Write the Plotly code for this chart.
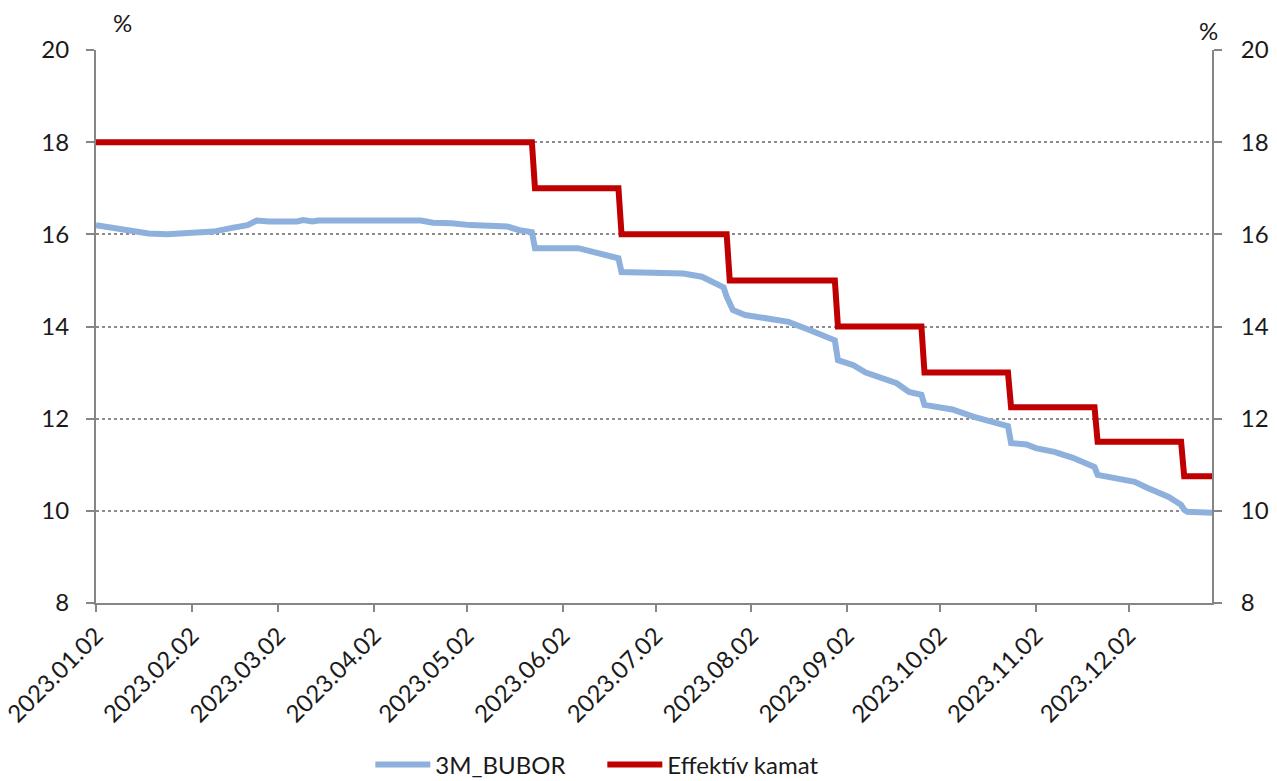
import plotly.graph_objects as go
import pandas as pd

# 3M BUBOR fixing, read at turning points (date, %)
bubor_dates = [
    "2023-01-02", "2023-01-05", "2023-01-11", "2023-01-19", "2023-01-25",
    "2023-02-01", "2023-02-09", "2023-02-15", "2023-02-20", "2023-02-23",
    "2023-02-27", "2023-03-08", "2023-03-10", "2023-03-13", "2023-03-15",
    "2023-04-17", "2023-04-21", "2023-04-27", "2023-05-03", "2023-05-15",
    "2023-05-19", "2023-05-23", "2023-05-24", "2023-06-07", "2023-06-12",
    "2023-06-19", "2023-06-20", "2023-06-21", "2023-06-28", "2023-07-11",
    "2023-07-17", "2023-07-21", "2023-07-24", "2023-07-25", "2023-07-27",
    "2023-07-31", "2023-08-08", "2023-08-14", "2023-08-21", "2023-08-29",
    "2023-08-30", "2023-09-04", "2023-09-08", "2023-09-13", "2023-09-18",
    "2023-09-22", "2023-09-26", "2023-09-27", "2023-10-02", "2023-10-06",
    "2023-10-13", "2023-10-20", "2023-10-24", "2023-10-25", "2023-10-30",
    "2023-11-02", "2023-11-08", "2023-11-14", "2023-11-20", "2023-11-21",
    "2023-11-22", "2023-11-27", "2023-12-04", "2023-12-08", "2023-12-15",
    "2023-12-19", "2023-12-20", "2023-12-21", "2023-12-29",
]
bubor_values = [
    16.20, 16.17, 16.10, 16.02, 16.00,
    16.04, 16.06, 16.14, 16.20, 16.30,
    16.28, 16.28, 16.31, 16.28, 16.30,
    16.30, 16.25, 16.24, 16.20, 16.17,
    16.09, 16.05, 15.70, 15.70, 15.62,
    15.50, 15.48, 15.18, 15.16, 15.15,
    15.08, 14.95, 14.85, 14.65, 14.36,
    14.25, 14.18, 14.10, 13.92, 13.70,
    13.27, 13.16, 13.00, 12.88, 12.77,
    12.58, 12.52, 12.30, 12.23, 12.20,
    12.04, 11.90, 11.84, 11.47, 11.44,
    11.36, 11.28, 11.15, 11.00, 10.95,
    10.78, 10.73, 10.63, 10.50, 10.30,
    10.13, 10.02, 9.98, 9.96,
]

# Effective policy rate: start value, then the first day of each new level
rate_start = "2023-01-02"
rate_end = "2023-12-29"
rate_change_dates = [
    "2023-05-24", "2023-06-21", "2023-07-26", "2023-08-30",
    "2023-09-27", "2023-10-25", "2023-11-22", "2023-12-20",
]
rate_levels = [18.00, 17.00, 16.00, 15.00, 14.00, 13.00, 12.25, 11.50, 10.75]

tick_dates = [
    "2023-01-02", "2023-02-02", "2023-03-02", "2023-04-02", "2023-05-02",
    "2023-06-02", "2023-07-02", "2023-08-02", "2023-09-02", "2023-10-02",
    "2023-11-02", "2023-12-02",
]
tick_labels = [pd.Timestamp(d).strftime("%Y.%m.%d") for d in tick_dates]
y_ticks = [8, 10, 12, 14, 16, 18, 20]

# Build the effective-rate path: level held until the day before each change
rate_x = [rate_start]
rate_y = [rate_levels[0]]
for i, d in enumerate(rate_change_dates):
    prev_day = (pd.Timestamp(d) - pd.Timedelta(days=1)).strftime("%Y-%m-%d")
    rate_x += [prev_day, d]
    rate_y += [rate_levels[i], rate_levels[i + 1]]
rate_x.append(rate_end)
rate_y.append(rate_levels[-1])

FONT = "Lato"
FS = 24
TXT = "#1a1a1a"
AXIS = "#868686"
GRID = "#8c8c8c"

fig = go.Figure()
fig.add_trace(go.Scatter(
    x=bubor_dates, y=bubor_values, mode="lines", name="3M_BUBOR",
    line=dict(color="#8EB0DC", width=6),
))
fig.add_trace(go.Scatter(
    x=rate_x, y=rate_y, mode="lines", name="Effektív kamat",
    line=dict(color="#C00000", width=6),
))
# invisible trace that carries the right-hand axis
fig.add_trace(go.Scatter(
    x=[rate_start], y=[None], yaxis="y2", mode="lines", showlegend=False,
    hoverinfo="skip",
))

fig.update_layout(
    width=1277, height=781,
    margin=dict(l=96, r=65, t=50, b=178),
    paper_bgcolor="white", plot_bgcolor="white",
    font=dict(family=FONT, size=FS, color=TXT),
    showlegend=True,
    legend=dict(
        orientation="h", xref="container", yref="container",
        x=0.29, xanchor="left", y=0.0205, yanchor="middle",
        font=dict(size=FS, family=FONT, color=TXT), itemwidth=55,
        entrywidth=162, entrywidthmode="pixels",
    ),
    xaxis=dict(
        type="date", automargin=False,
        range=["2023-01-02", "2023-12-29"],
        tickvals=tick_dates, ticktext=tick_labels, tickangle=-45,
        ticks="outside", ticklen=7, tickcolor=AXIS, tickwidth=2,
        showline=True, linecolor=AXIS, linewidth=2,
        showgrid=False, zeroline=False,
        tickfont=dict(size=FS, family=FONT, color=TXT),
    ),
    yaxis=dict(
        range=[8, 20], tickvals=y_ticks, automargin=False,
        ticks="outside", ticklen=8, tickcolor=AXIS, tickwidth=2,
        showline=True, linecolor=AXIS, linewidth=2,
        showgrid=True, gridcolor=GRID, griddash="dot", gridwidth=1.5,
        zeroline=False, ticklabelstandoff=12,
        tickfont=dict(size=FS, family=FONT, color=TXT),
    ),
    yaxis2=dict(
        range=[8, 20], tickvals=y_ticks, overlaying="y", side="right",
        automargin=False,
        ticks="outside", ticklen=8, tickcolor=AXIS, tickwidth=2,
        showline=True, linecolor=AXIS, linewidth=2,
        showgrid=False, zeroline=False, ticklabelstandoff=14,
        tickfont=dict(size=FS, family=FONT, color=TXT),
    ),
    annotations=[
        dict(text="%", xref="paper", yref="paper", x=0.024, y=1.0,
             yshift=28, showarrow=False, xanchor="center", yanchor="middle",
             font=dict(size=FS, family=FONT, color=TXT)),
        dict(text="%", xref="paper", yref="paper", x=0.997, y=1.0,
             yshift=20, showarrow=False, xanchor="center", yanchor="middle",
             font=dict(size=FS, family=FONT, color=TXT)),
    ],
)

fig.write_html("out.html")
